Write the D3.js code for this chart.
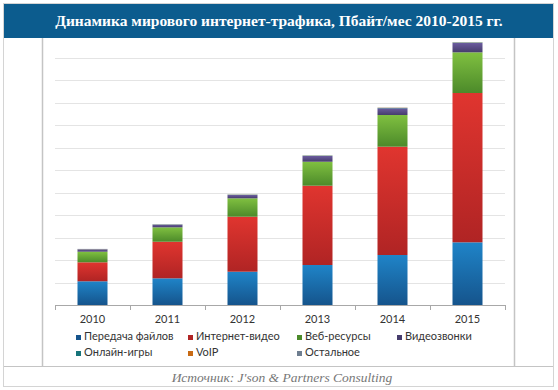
<!DOCTYPE html>
<html>
<head>
<meta charset="utf-8">
<script src="https://cdn.jsdelivr.net/npm/d3@7"></script>
<style>
  body { margin: 0; background: #fff; }
  svg { display: block; }
</style>
</head>
<body>
<svg width="558" height="390"></svg>
<script>
// years on the x axis
var years = ['2010', '2011', '2012', '2013', '2014', '2015']

// series names (legend order) and values, Пбайт/мес
var seriesNames = ['Передача файлов', 'Интернет-видео', 'Веб-ресурсы', 'Видеозвонки', 'Онлайн-игры', 'VoIP', 'Остальное']
var fileTransfer = [5270, 5930, 7400, 8890, 11110, 13930]
var internetVideo = [4220, 8130, 12220, 17620, 24070, 33180]
var webResources = [2360, 3200, 4090, 5330, 7040, 9040]
var videoCalls = [510, 580, 730, 1270, 1490, 2070]
var onlineGames = [40, 50, 60, 70, 80, 90]
var voip = [30, 30, 40, 40, 50, 50]
var other = [40, 40, 50, 50, 60, 60]

var yTicks = [0, 5000, 10000, 15000, 20000, 25000, 30000, 35000, 40000, 45000, 50000, 55000, 60000]

// colours: top and bottom of each gradient
var colors = [
  ['#1f84c8', '#15548c'],
  ['#e0352f', '#b02424'],
  ['#80c040', '#4c8a2a'],
  ['#6b5c9e', '#463c6c'],
  ['#2aa0a8', '#17747a'],
  ['#f0902a', '#c86a14'],
  ['#9aaabb', '#6e7e90']
]

var table = years.map(function(y, i) {
  return {
    year: y,
    s0: fileTransfer[i], s1: internetVideo[i], s2: webResources[i], s3: videoCalls[i],
    s4: onlineGames[i], s5: voip[i], s6: other[i]
  }
})
var keys = ['s0', 's1', 's2', 's3', 's4', 's5', 's6']
var stacked = d3.stack().keys(keys)(table)

const svg = d3.select('svg')

// gradients
var defs = svg.append('defs')
colors.forEach(function(c, i) {
  var g = defs.append('linearGradient')
    .attr('id', 'grad' + i)
    .attr('x1', 0).attr('y1', 0).attr('x2', 0).attr('y2', 1)
  g.append('stop').attr('offset', '0%').attr('stop-color', c[0])
  g.append('stop').attr('offset', '100%').attr('stop-color', c[1])
})

// frame
svg.append('rect').attr('x', 3.5).attr('y', 3.5).attr('width', 550).attr('height', 383)
  .attr('fill', '#fff').attr('stroke', '#d4d4d4')
svg.append('line').attr('x1', 42.5).attr('x2', 42.5).attr('y1', 38).attr('y2', 367)
  .attr('stroke', '#c4c4c4').attr('stroke-width', 1.5)
svg.append('line').attr('x1', 514.5).attr('x2', 514.5).attr('y1', 38).attr('y2', 367)
  .attr('stroke', '#c4c4c4').attr('stroke-width', 1.5)
svg.append('line').attr('x1', 4).attr('x2', 553).attr('y1', 366.5).attr('y2', 366.5)
  .attr('stroke', '#c4c4c4')

const yScale = d3.scaleLinear().domain([0, 60000]).range([305, 35])

const xScale = d3.scaleBand()
  .domain(years)
  .range([55, 505])
  .paddingInner(0.6)
  .paddingOuter(0.3)

// horizontal grid
svg.append('g')
  .attr('class', 'grid')
  .selectAll('line')
  .data(yTicks.slice(1))
  .enter()
  .append('line')
  .attr('x1', 55).attr('x2', 505)
  .attr('y1', d => Math.round(yScale(d)) + 0.5)
  .attr('y2', d => Math.round(yScale(d)) + 0.5)
  .attr('stroke', '#e4e4e4')

// bars
svg.append('g')
  .selectAll('g')
  .data(stacked)
  .enter()
  .append('g')
  .attr('fill', (d, i) => 'url(#grad' + i + ')')
  .selectAll('rect')
  .data(d => d)
  .enter()
  .append('rect')
  .attr('x', d => xScale(d.data.year))
  .attr('width', xScale.bandwidth())
  .attr('y', d => yScale(d[1]))
  .attr('height', d => yScale(d[0]) - yScale(d[1]))

// x axis
var step = xScale.step()
var xAxis = svg.append('g')
xAxis.append('line').attr('x1', 55).attr('x2', 505).attr('y1', 305.5).attr('y2', 305.5)
  .attr('stroke', '#a8a8a8')
xAxis.selectAll('.tick')
  .data(d3.range(years.length + 1))
  .enter()
  .append('line')
  .attr('x1', i => 55.5 + i * step).attr('x2', i => 55.5 + i * step)
  .attr('y1', 305).attr('y2', 310)
  .attr('stroke', '#a8a8a8')
xAxis.selectAll('text')
  .data(years)
  .enter()
  .append('text')
  .attr('x', d => xScale(d) + xScale.bandwidth() / 2)
  .attr('y', 323)
  .attr('text-anchor', 'middle')
  .attr('font-family', 'Lato, sans-serif')
  .attr('font-size', 11)
  .attr('fill', '#333')
  .text(d => d)

// legend
var legendCols = [76, 188, 297, 397]
var legend = svg.append('g')
  .selectAll('g')
  .data(seriesNames)
  .enter()
  .append('g')
  .attr('transform', (d, i) => 'translate(' + legendCols[i % 4] + ',' + (340 + Math.floor(i / 4) * 16) + ')')
legend.append('rect')
  .attr('x', 0).attr('y', -5).attr('width', 5).attr('height', 5)
  .attr('fill', (d, i) => colors[i][1])
legend.append('text')
  .attr('x', 8).attr('y', 0)
  .attr('font-family', 'Lato, sans-serif')
  .attr('font-size', 11)
  .attr('fill', '#333')
  .text(d => d)

// title bar
svg.append('rect').attr('x', 4).attr('y', 4).attr('width', 549).attr('height', 34)
  .attr('fill', '#0c5c8e')
svg.append('text')
  .attr('x', 279).attr('y', 26)
  .attr('text-anchor', 'middle')
  .attr('font-family', 'Liberation Serif, serif')
  .attr('font-weight', 'bold')
  .attr('font-size', 15.5)
  .attr('fill', '#fff')
  .text('Динамика мирового интернет-трафика, Пбайт/мес 2010-2015 гг.')

// source
svg.append('text')
  .attr('x', 282).attr('y', 382)
  .attr('text-anchor', 'middle')
  .attr('font-family', 'Liberation Serif, serif')
  .attr('font-style', 'italic')
  .attr('font-size', 13.5)
  .attr('fill', '#777')
  .text('Источник: J\'son & Partners Consulting')
</script>
</body>
</html>
